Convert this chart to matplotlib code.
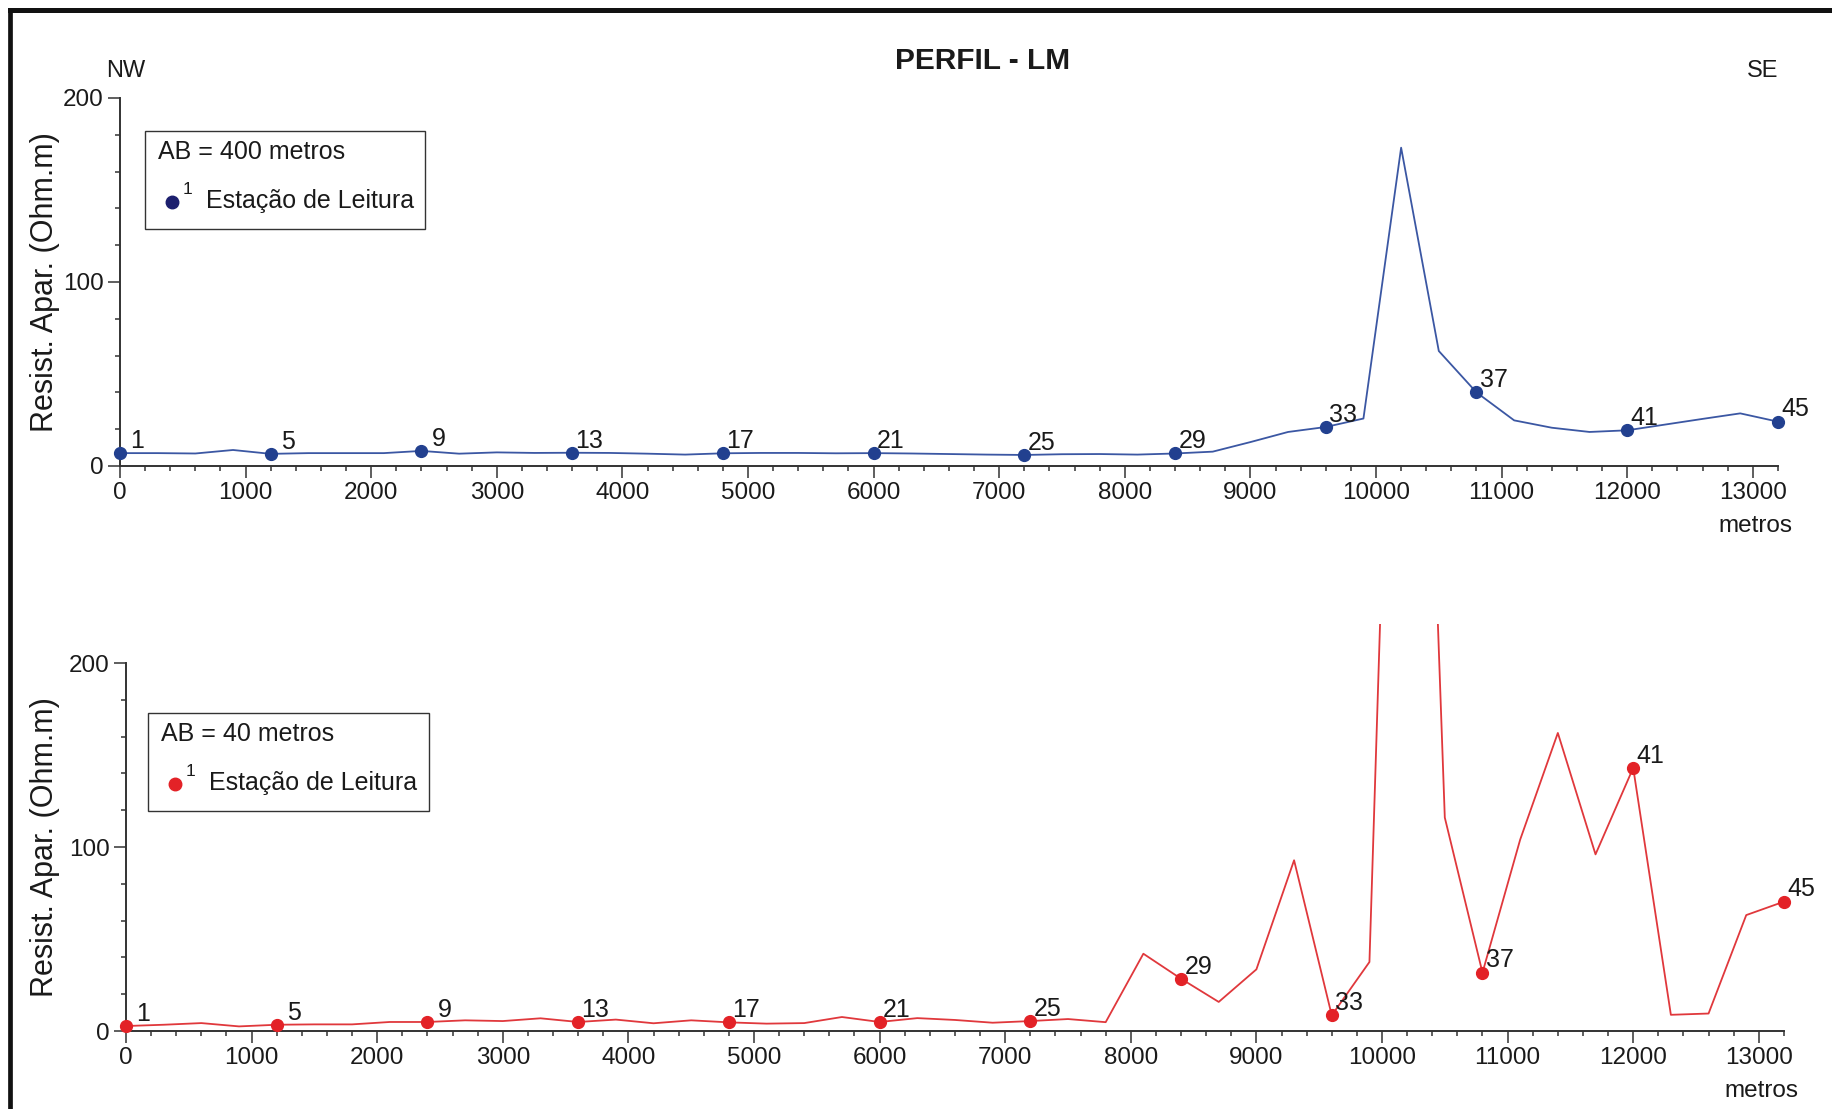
import matplotlib
matplotlib.use('Agg')
import matplotlib.pyplot as plt
from matplotlib.lines import Line2D
from matplotlib.patches import Rectangle
from matplotlib.ticker import MultipleLocator, FixedLocator

W, H = 1832, 1109
plt.rcParams['font.family'] = ['Liberation Sans', 'DejaVu Sans']

# distancia ao longo do perfil (m), uma leitura a cada 300 m (estacoes 1..45)
distancia = [0, 300, 600, 900, 1200, 1500, 1800, 2100, 2400, 2700, 3000, 3300,
             3600, 3900, 4200, 4500, 4800, 5100, 5400, 5700, 6000, 6300, 6600,
             6900, 7200, 7500, 7800, 8100, 8400, 8700, 9000, 9300, 9600, 9900,
             10200, 10500, 10800, 11100, 11400, 11700, 12000, 12300, 12600,
             12900, 13200]

# resistividade aparente (Ohm.m), AB = 400 m
rho_ab400 = [7.0, 7.0, 6.8, 8.7, 6.6, 7.0, 7.0, 7.0, 8.2, 6.7, 7.4, 7.1,
             7.2, 7.1, 6.7, 6.2, 6.9, 7.1, 7.1, 6.9, 7.0, 6.8, 6.5,
             6.2, 6.0, 6.4, 6.5, 6.2, 6.8, 7.8, 13.0, 18.5, 21.2, 25.8,
             173.0, 62.5, 40.0, 24.8, 20.8, 18.5, 19.4, 22.5, 25.6,
             28.6, 24.1]

# resistividade aparente (Ohm.m), AB = 40 m
rho_ab40 = [2.7, 3.4, 4.3, 2.5, 3.4, 3.6, 3.6, 4.9, 4.9, 5.8, 5.4, 6.9,
            4.9, 6.2, 4.2, 5.8, 4.7, 4.0, 4.3, 7.6, 4.9, 7.0, 6.0,
            4.5, 5.4, 6.5, 4.8, 42.0, 28.4, 15.8, 33.5, 92.8, 8.5, 37.5,
            690.0, 116.0, 31.7, 104.0, 162.0, 96.0, 143.0, 8.8, 9.5,
            63.0, 70.3]

# estacoes com rotulo
estacoes_rot = [1, 5, 9, 13, 17, 21, 25, 29, 33, 37, 41, 45]

xticks = [0, 1000, 2000, 3000, 4000, 5000, 6000, 7000, 8000, 9000, 10000,
          11000, 12000, 13000]
yticks = [0, 100, 200]
yticks_min = [20, 40, 60, 80, 120, 140, 160, 180]


def fx(px):
    return px / W


def fy(py):
    return 1 - py / H


def px2pt(p):
    return p * 72 / 100


def painel(left, bottom_px, top_px, ytop, y, cor_linha, cor_ponto):
    right = left + 13200 * 0.1256
    ax = fig.add_axes([fx(left), fy(bottom_px), (right - left) / W,
                       (bottom_px - top_px) / H])
    ax.plot(distancia, y, color=cor_linha, lw=1.3, zorder=2)
    xs = [distancia[n - 1] for n in estacoes_rot]
    ys = [y[n - 1] for n in estacoes_rot]
    ax.plot(xs, ys, 'o', color=cor_ponto, ms=8.5, clip_on=False, zorder=3)
    for n, xv, yv in zip(estacoes_rot, xs, ys):
        ax.annotate(str(n), (xv, yv), xytext=(12.5, 8.8), textcoords='offset points',
                    ha='center', va='center', fontsize=18, color='#1a1a1a')
    ax.set_xlim(0, 13200)
    ax.set_ylim(0, ytop)
    for s in ['top', 'right']:
        ax.spines[s].set_visible(False)
    for s in ['left', 'bottom']:
        ax.spines[s].set_linewidth(1.4)
        ax.spines[s].set_color('#333333')
    ax.spines['left'].set_bounds(0, 200)
    ax.spines['bottom'].set_bounds(0, 13200)
    ax.set_xticks(xticks)
    ax.set_xticklabels([str(v) for v in xticks])
    ax.set_yticks(yticks)
    ax.set_yticklabels([str(v) for v in yticks])
    ax.xaxis.set_minor_locator(MultipleLocator(200))
    ax.yaxis.set_minor_locator(FixedLocator(yticks_min))
    ax.tick_params(which='major', direction='out', length=px2pt(12), width=1.1,
                   color='#333333', labelsize=17.5, pad=3, labelcolor='#1a1a1a')
    ax.tick_params(which='minor', direction='out', length=px2pt(5), width=1.1,
                   color='#333333')
    ax.set_ylabel('Resist. Apar. (Ohm.m)', fontsize=22, color='#1a1a1a')
    ax.yaxis.set_label_coords(-(left - 60) / (right - left), 100 / ytop)
    ax.annotate('metros', (13000, 0), xytext=(2, -43), textcoords='offset points',
                ha='center', va='center', fontsize=17.5, color='#1a1a1a',
                annotation_clip=False)
    ax.patch.set_alpha(0)
    return ax


def legenda(l, t, r, b, texto, cor):
    fig.add_artist(Rectangle((fx(l), fy(b)), (r - l) / W, (b - t) / H,
                             transform=fig.transFigure, facecolor='white',
                             edgecolor='#333333', lw=1.0))
    fig.text(fx(l + 13), fy(t + 21), texto, fontsize=18, ha='left', va='center',
             color='#1a1a1a')
    fig.add_artist(Line2D([fx(l + 27)], [fy(t + 71)], marker='o', ms=9,
                          color=cor, transform=fig.transFigure))
    fig.text(fx(l + 38), fy(t + 58), '1', fontsize=12.5, ha='left', va='center',
             color='#1a1a1a')
    fig.text(fx(l + 61), fy(t + 70), 'Estação de Leitura', fontsize=18,
             ha='left', va='center', color='#1a1a1a')


fig = plt.figure(figsize=(W / 100, H / 100), dpi=100)
fig.patch.set_facecolor('white')

# moldura
fig.add_artist(Line2D([fx(9.5), fx(9.5)], [fy(10), -0.01], color='#111111', lw=3.4,
                      transform=fig.transFigure, solid_capstyle='projecting'))
fig.add_artist(Line2D([fx(9.5), 1.01], [fy(10), fy(10)], color='#111111', lw=3.6,
                      transform=fig.transFigure, solid_capstyle='projecting'))

painel(120, 466, 98, 200, rho_ab400, '#3b57a3', '#22408f')
painel(126, 1031, 624.4, 221, rho_ab40, '#e0383c', '#e32227')

legenda(145, 131, 425, 229, 'AB = 400 metros', '#1c1f6e')
legenda(148, 713, 429, 811, 'AB = 40 metros', '#e32227')

fig.text(fx(983), fy(61), 'PERFIL - LM', fontsize=21.5, fontweight='bold',
         ha='center', va='center', color='#1a1a1a')
fig.text(fx(126), fy(71), 'NW', fontsize=17, ha='center', va='center',
         color='#1a1a1a')
fig.text(fx(1763), fy(71), 'SE', fontsize=17, ha='center', va='center',
         color='#1a1a1a')

fig.savefig('out.png', dpi=100)
